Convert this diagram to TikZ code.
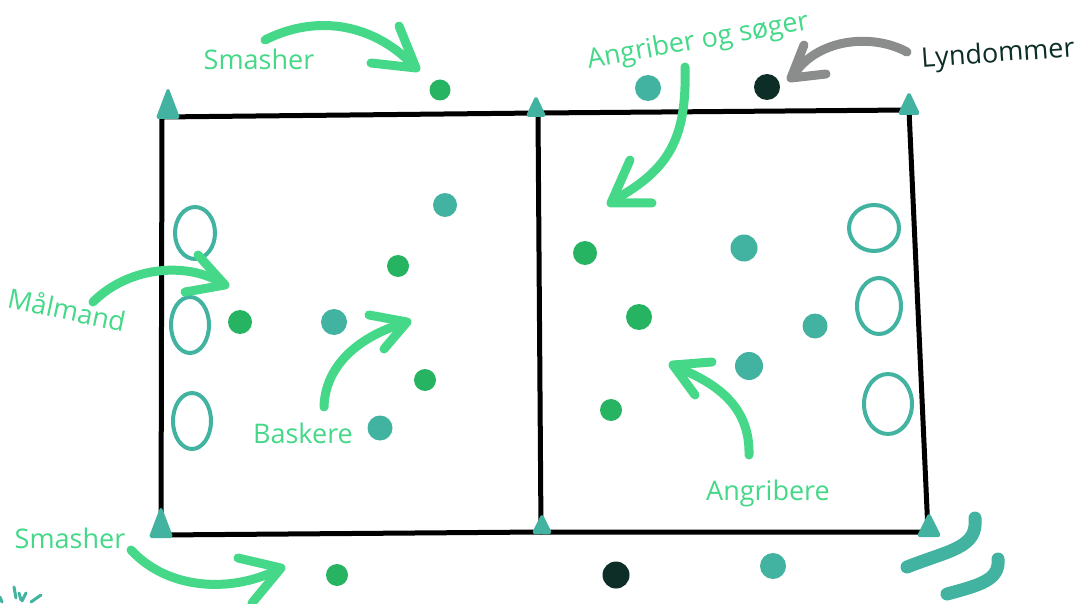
\documentclass[tikz,border=0pt]{standalone}
\usepackage{fontspec}
\setmainfont{Open Sans}
\usepackage{xcolor}
\definecolor{inkgreen}{RGB}{68,216,136}
\definecolor{dotgreen}{RGB}{38,180,99}
\definecolor{dotteal}{RGB}{65,179,160}
\definecolor{dotdark}{RGB}{12,46,38}
\definecolor{inkgray}{RGB}{138,141,139}
\usepackage{tikz}
\usetikzlibrary{arrows.meta, positioning}

\begin{document}
\begin{tikzpicture}[
    x=1pt, y=-1pt,
    field/.style ={draw=black, line width=5pt, line join=round, line cap=round},
    cone/.style  ={fill=dotteal, draw=dotteal, line width=2pt,
                   line join=round, rounded corners=2pt},
    hoop/.style  ={draw=dotteal, line width=4pt},
    pgreen/.style={circle, fill=dotgreen, inner sep=0pt},
    pteal/.style ={circle, fill=dotteal, inner sep=0pt},
    pdark/.style ={circle, fill=dotdark, inner sep=0pt},
    hand/.style  ={draw=inkgreen, line width=9pt, line cap=round, line join=round},
    handgray/.style={hand, draw=inkgray},
    lbl/.style   ={font=\fontsize{27}{30}\selectfont, text=inkgreen, inner sep=1pt}
]
\useasboundingbox (0,0) rectangle (1081,604);

%% --- banen ---
\draw[field] (162,117) -- (538,113) -- (909,110) -- (928,532) -- (541,532) -- (161,535) -- cycle;
\draw[field] (538,113) -- (541,532);

%% --- kegler ---
\foreach \bx/\by/\w/\h in {168/118/11/29, 536/116/9/19, 909/114/10/21,
                           161/537/11/29, 542/533/9/18, 929/536/11/22}
  \fill[cone] (\bx-\w,\by) -- (\bx,\by-\h) -- (\bx+\w,\by) -- cycle;

%% --- baller ---
\draw[hoop] (195,233) ellipse (20 and 26);
\draw[hoop] (190,325) ellipse (19 and 28);
\draw[hoop] (192,421) ellipse (19 and 28);
\draw[hoop] (874,228) ellipse (25 and 23);
\draw[hoop] (879,306) ellipse (22 and 28);
\draw[hoop] (888,404) ellipse (24 and 30);

%% --- spillere ---
\node[pgreen, minimum size=21pt] (s1) at (440,90)  {};
\node[pgreen, minimum size=22pt] (b1) at (398,266) {};
\node[pgreen, minimum size=24pt] (m1) at (240,322) {};
\node[pgreen, minimum size=22pt] (b2) at (425,380) {};
\node[pgreen, minimum size=24pt] (a1) at (585,253) {};
\node[pgreen, minimum size=26pt] (a2) at (639,317) {};
\node[pgreen, minimum size=22pt] (a3) at (611,410) {};
\node[pgreen, minimum size=22pt] (s2) at (337,575) {};
\node[pteal, minimum size=26pt] (t1) at (648,88)  {};
\node[pteal, minimum size=24pt] (t2) at (445,205) {};
\node[pteal, minimum size=26pt] (t3) at (334,322) {};
\node[pteal, minimum size=25pt] (t4) at (380,428) {};
\node[pteal, minimum size=27pt] (t5) at (744,248) {};
\node[pteal, minimum size=25pt] (t6) at (815,326) {};
\node[pteal, minimum size=28pt] (t7) at (749,366) {};
\node[pteal, minimum size=26pt] (t8) at (773,566) {};
\node[pdark, minimum size=26pt] (l1) at (767,87)  {};
\node[pdark, minimum size=27pt] (l2) at (616,575) {};

%% --- tekster ---
\node[lbl] (smashtop) at (259,59) {Smasher};
\node[lbl, rotate=10] (angsog) at (698,42) {Angriber og søger};
\node[lbl, text=dotdark, rotate=4] (lyn) at (998,55) {Lyndommer};
\node[lbl, rotate=-12] (malmand) at (67,309) {Målmand};
\node[lbl] (bask) at (303,433) {Baskere};
\node[lbl] (smashbot) at (70,538) {Smasher};
\node[lbl] (angrib) at (768,493) {Angribere};

%% --- pile ---
\draw[hand] (265,40) .. controls (312,16) and (370,20) .. (414,66);
\draw[hand] (399,26) -- (416,68) -- (371,63);
\draw[hand] (685,67) .. controls (687,140) and (668,170) .. (614,200);
\draw[hand] (630,160) -- (611,203) -- (652,203);
\draw[handgray] (907,52) .. controls (870,32) and (815,40) .. (793,76);
\draw[handgray] (804,45) -- (791,78) -- (826,74);
\draw[hand] (93,302) .. controls (130,265) and (190,262) .. (223,284);
\draw[hand] (198,255) -- (225,285) -- (185,292);
\draw[hand] (324,407) .. controls (325,368) and (355,338) .. (404,323);
\draw[hand] (369,315) -- (407,322) -- (384,349);
\draw[hand] (131,550) .. controls (170,592) and (235,592) .. (279,569);
\draw[hand] (238,558) -- (281,568) -- (252,603);
\draw[hand] (749,455) .. controls (750,410) and (722,385) .. (676,367);
\draw[hand] (712,362) -- (673,365) -- (695,395);

%% --- hjørne ---
\draw[hand, draw=dotteal, line width=13pt] (975,518) .. controls (978,548) and (950,550) .. (907,567);
\draw[hand, draw=dotteal, line width=13pt] (998,559) .. controls (1000,580) and (980,585) .. (947,594);
\foreach \ax/\ay/\bx/\by in {14/587/16/598, 19/593/21/600, 26/593/22/601, 41/595/31/602, 0/597/2/602}
  \draw[dotteal, line width=3pt, line cap=round] (\ax,\ay) -- (\bx,\by);
\end{tikzpicture}
\end{document}
